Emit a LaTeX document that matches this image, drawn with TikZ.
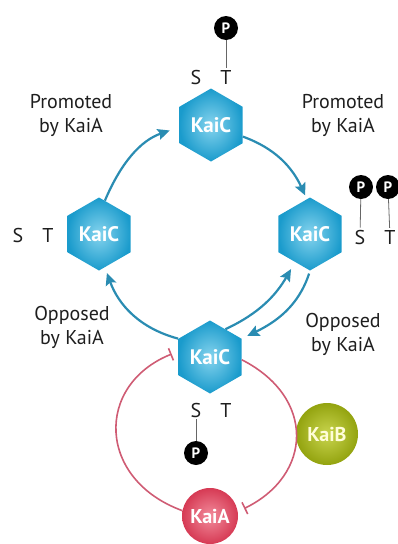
\documentclass[tikz,border=0pt]{standalone}
\usepackage{fontspec}
\setmainfont{PT Sans}
\usetikzlibrary{shapes.geometric,arrows.meta}

\definecolor{kaiblue}{HTML}{1A9BCC}
\definecolor{kailight}{HTML}{86D4EE}
\definecolor{cycleblue}{HTML}{2A8CB2}
\definecolor{kaired}{HTML}{D63A54}
\definecolor{kaipink}{HTML}{F28C9C}
\definecolor{inhibred}{HTML}{CF5C74}
\definecolor{kaigreen}{HTML}{93A30F}
\definecolor{kailime}{HTML}{C9D54E}
\definecolor{inkgray}{HTML}{1E1E1E}

\tikzset{
  kaic/.style={regular polygon, regular polygon sides=6, shape border rotate=30,
    minimum size=73pt, inner sep=0pt, inner color=kailight, outer color=kaiblue,
    text=white, font=\bfseries\fontsize{21}{24}\selectfont},
  kaiball/.style={circle, inner sep=0pt, font=\bfseries\fontsize{20}{24}\selectfont},
  site/.style={text=inkgray, inner sep=2pt, font=\fontsize{20}{24}\selectfont},
  phos/.style={circle, fill=black, text=white, minimum size=24pt, inner sep=0pt,
    font=\bfseries\fontsize{15}{16}\selectfont},
  stem/.style={draw=black!60, line width=0.8pt},
  note/.style={align=center, text=inkgray, font=\fontsize{20}{24}\selectfont},
  cyc/.style={draw=cycleblue, line width=2.2pt, -{Stealth[length=12pt,width=11pt,inset=2pt]}},
  inhib/.style={draw=inhibred, line width=1.6pt, -{Bar[width=13pt,line width=1.6pt]}}
}

\begin{document}
\begin{tikzpicture}[x=1pt,y=1pt]

\def \sitesep {15}

\useasboundingbox (0,0) rectangle (397,-544);

% the four KaiC states
\node[kaic] (top) at (211,-125) {KaiC};
\node[kaic] (rgt) at (310,-234) {KaiC};
\node[kaic] (bot) at (210,-357) {KaiC};
\node[kaic] (lft) at (99,-234) {KaiC};

\node[kaiball, minimum size=62pt, inner color=kailime, outer color=kaigreen, text=white!85!yellow] (kaib) at (327,-434) {KaiB};
\node[kaiball, minimum size=56pt, inner color=kaipink, outer color=kaired, text=white] (kaia) at (210,-516) {KaiA};

% S / T sites
\foreach \k/\x/\y in {top/211/-77, rgt/375/-237, lft/33/-235, bot/211/-410}
{
  \node[site] (\k-S) at (\x-\sitesep,\y) {S};
  \node[site] (\k-T) at (\x+\sitesep,\y) {T};
}

% phosphates
\node[phos] (p1) at (226,-28) {P};
\node[phos] (p2) at (361,-187) {P};
\node[phos] (p3) at (388,-187) {P};
\node[phos] (p4) at (196,-453) {P};

\draw[stem] (p1) -- (top-T);
\draw[stem] (p2) -- (rgt-S);
\draw[stem] (p3) -- (rgt-T);
\draw[stem] (p4) -- (bot-S);

% the cycle
\draw[cyc, shorten >=10pt] (lft.80) to[out=67,in=199] (top.184);
\draw[cyc, shorten >=4pt] (top.-20) to[out=-20,in=115] (rgt.95);
\draw[cyc, shorten >=6pt] (bot.150) to[out=165,in=290] (lft.-80);
\draw[cyc, shorten >=8pt] (bot.61) to[out=25,in=240] (rgt.242);
\draw[cyc, shorten <=3pt, shorten >=6pt] (rgt.270) to[out=-108,in=26] (bot.30);

% inhibition loop
\draw[inhib, shorten >=7pt] (kaia.169) to[out=160,in=202,looseness=1.45] (bot.170);
\draw[inhib, shorten >=7pt] (bot.-5) to[out=-27,in=26,looseness=1.4] (kaia.9);

\node[note] (promL) at (71,-115) {Promoted\\by KaiA};
\node[note] (promR) at (343,-115) {Promoted\\by KaiA};
\node[note] (oppL) at (72,-327) {Opposed\\by KaiA};
\node[note] (oppR) at (343,-334) {Opposed\\by KaiA};

\end{tikzpicture}
\end{document}
